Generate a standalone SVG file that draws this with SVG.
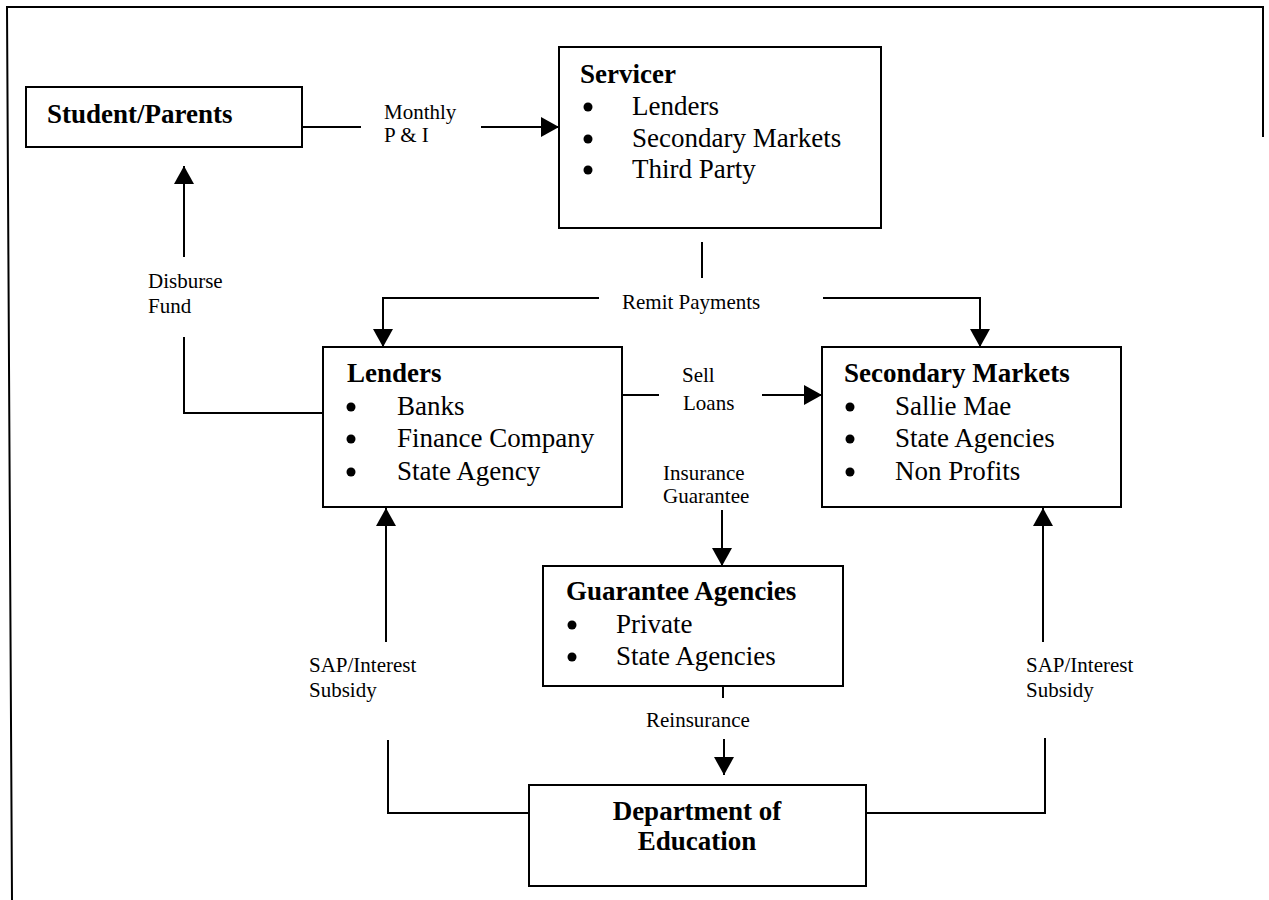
<svg xmlns="http://www.w3.org/2000/svg" width="1269" height="900" viewBox="0 0 1269 900">
<style>
.box{fill:#fff;stroke:#000;stroke-width:2}
.t{font-family:"Liberation Serif","Times New Roman",serif;font-size:27px;fill:#000}
.b{font-weight:bold}
.lbl{font-family:"Liberation Serif","Times New Roman",serif;font-size:21px;fill:#000}
.ln{fill:none;stroke:#000;stroke-width:2}
.arr{fill:none;stroke:#000;stroke-width:2;marker-end:url(#ah)}
</style>
<defs>
<marker id="ah" markerUnits="userSpaceOnUse" markerWidth="18" markerHeight="20" refX="18" refY="10" orient="auto" viewBox="0 0 18 20">
<path d="M0,0 L18,10 L0,20 z" fill="#000"/>
</marker>
</defs>
<rect width="1269" height="900" fill="#fff"/>
<g id="frame">
<polyline class="ln" points="12,900 7,7 1263,7 1263,137"/>
</g>
<g id="student">
<rect class="box" x="26" y="87" width="276" height="60"/>
<text class="t b" x="47" y="123">Student/Parents</text>
</g>
<g id="servicer">
<rect class="box" x="559" y="47" width="322" height="181"/>
<text class="t b" x="580" y="83">Servicer</text>
<circle cx="588" cy="107" r="4.5"/><text class="t" x="632" y="115">Lenders</text>
<circle cx="588" cy="139" r="4.5"/><text class="t" x="632" y="147">Secondary Markets</text>
<circle cx="588" cy="170" r="4.5"/><text class="t" x="632" y="178">Third Party</text>
</g>
<g id="lenders">
<rect class="box" x="323" y="347" width="299" height="160"/>
<text class="t b" x="347" y="382">Lenders</text>
<circle cx="351" cy="407" r="4.5"/><text class="t" x="397" y="415">Banks</text>
<circle cx="351" cy="439" r="4.5"/><text class="t" x="397" y="447">Finance Company</text>
<circle cx="351" cy="472" r="4.5"/><text class="t" x="397" y="480">State Agency</text>
</g>
<g id="secondary">
<rect class="box" x="822" y="347" width="299" height="160"/>
<text class="t b" x="844" y="382">Secondary Markets</text>
<circle cx="850" cy="407" r="4.5"/><text class="t" x="895" y="415">Sallie Mae</text>
<circle cx="850" cy="439" r="4.5"/><text class="t" x="895" y="447">State Agencies</text>
<circle cx="850" cy="472" r="4.5"/><text class="t" x="895" y="480">Non Profits</text>
</g>
<g id="guarantee">
<rect class="box" x="543" y="566" width="300" height="120"/>
<text class="t b" x="566" y="600">Guarantee Agencies</text>
<circle cx="572" cy="625" r="4.5"/><text class="t" x="616" y="633">Private</text>
<circle cx="572" cy="657" r="4.5"/><text class="t" x="616" y="665">State Agencies</text>
</g>
<g id="education">
<rect class="box" x="529" y="785" width="337" height="101"/>
<text class="t b" x="697" y="820" text-anchor="middle">Department of</text>
<text class="t b" x="697" y="850" text-anchor="middle">Education</text>
</g>
<g id="connectors">
<line class="ln" x1="302" y1="127" x2="361" y2="127"/>
<line class="arr" x1="481" y1="127" x2="559" y2="127"/>
<text class="lbl" x="384" y="119">Monthly</text>
<text class="lbl" x="384" y="142">P &amp; I</text>

<polyline class="ln" points="323,413 184,413 184,337"/>
<line class="arr" x1="184" y1="257" x2="184" y2="166"/>
<text class="lbl" x="148" y="288">Disburse</text>
<text class="lbl" x="148" y="313">Fund</text>

<line class="ln" x1="702" y1="242" x2="702" y2="278"/>
<polyline class="arr" points="599,298 383,298 383,347"/>
<polyline class="arr" points="823,298 980,298 980,347"/>
<text class="lbl" x="622" y="309">Remit Payments</text>

<line class="ln" x1="622" y1="395" x2="659" y2="395"/>
<line class="arr" x1="762" y1="395" x2="822" y2="395"/>
<text class="lbl" x="682" y="382">Sell</text>
<text class="lbl" x="683" y="410">Loans</text>

<line class="arr" x1="722" y1="510" x2="722" y2="566"/>
<text class="lbl" x="663" y="480">Insurance</text>
<text class="lbl" x="663" y="503">Guarantee</text>

<line class="ln" x1="723" y1="686" x2="723" y2="698"/>
<line class="arr" x1="724" y1="739" x2="724" y2="775"/>
<text class="lbl" x="646" y="727">Reinsurance</text>

<line class="arr" x1="386" y1="642" x2="386" y2="508"/>
<polyline class="ln" points="388,740 388,813 529,813"/>
<text class="lbl" x="309" y="672">SAP/Interest</text>
<text class="lbl" x="309" y="697">Subsidy</text>

<line class="arr" x1="1043" y1="642" x2="1043" y2="508"/>
<polyline class="ln" points="1045,738 1045,813 866,813"/>
<text class="lbl" x="1026" y="672">SAP/Interest</text>
<text class="lbl" x="1026" y="697">Subsidy</text>
</g>
</svg>
